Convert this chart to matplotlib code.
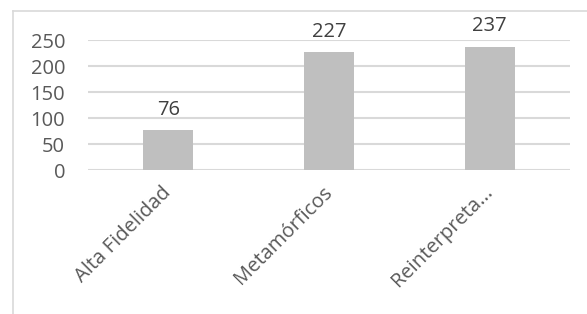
import matplotlib.pyplot as plt
from matplotlib.lines import Line2D

categories = ["Alta Fidelidad", "Metamórficos", "Reinterpreta..."]
values = [76, 227, 237]
yticks = [0, 50, 100, 150, 200, 250]

plt.rcParams['font.family'] = ['Open Sans', 'DejaVu Sans']
text_color = "#595959"
grid_color = "#d9d9d9"

W, H = 587, 314
fig = plt.figure(figsize=(W / 100, H / 100), dpi=100)
ax = fig.add_axes([88 / W, 1 - 170 / H, (570 - 88) / W, 130 / H])

x = range(len(categories))
bars = ax.bar(x, values, width=0.31, color="#bfbfbf", zorder=3)
for b, v in zip(bars, values):
    ax.annotate(str(v), (b.get_x() + b.get_width() / 2, v), xytext=(0, 7.5),
                textcoords="offset points", ha="center", va="bottom",
                fontsize=14.5, color="#404040")

ax.set_xlim(-0.5, len(categories) - 0.5)
ax.set_ylim(0, 250)
ax.set_yticks(yticks)
ax.set_xticks(list(x))
ax.set_xticklabels(categories, rotation=45, ha="right", va="center",
                   rotation_mode="anchor", fontsize=14.5, color=text_color)
ax.tick_params(axis="y", length=0, pad=16.5, labelsize=14.5, labelcolor=text_color)
ax.tick_params(axis="x", length=0, pad=14)

ax.yaxis.grid(True, color=grid_color, linewidth=1.5, zorder=0)
for s in ax.spines.values():
    s.set_visible(False)
ax.set_axisbelow(True)

# chart border (only left and top visible in crop)
fig.add_artist(Line2D([12.5 / W, 12.5 / W], [0, 1 - 11 / H], color=grid_color,
                      linewidth=1.2, transform=fig.transFigure))
fig.add_artist(Line2D([12.5 / W, 1], [1 - 11 / H, 1 - 11 / H], color=grid_color,
                      linewidth=1.2, transform=fig.transFigure))

fig.savefig("out.png", dpi=100)
